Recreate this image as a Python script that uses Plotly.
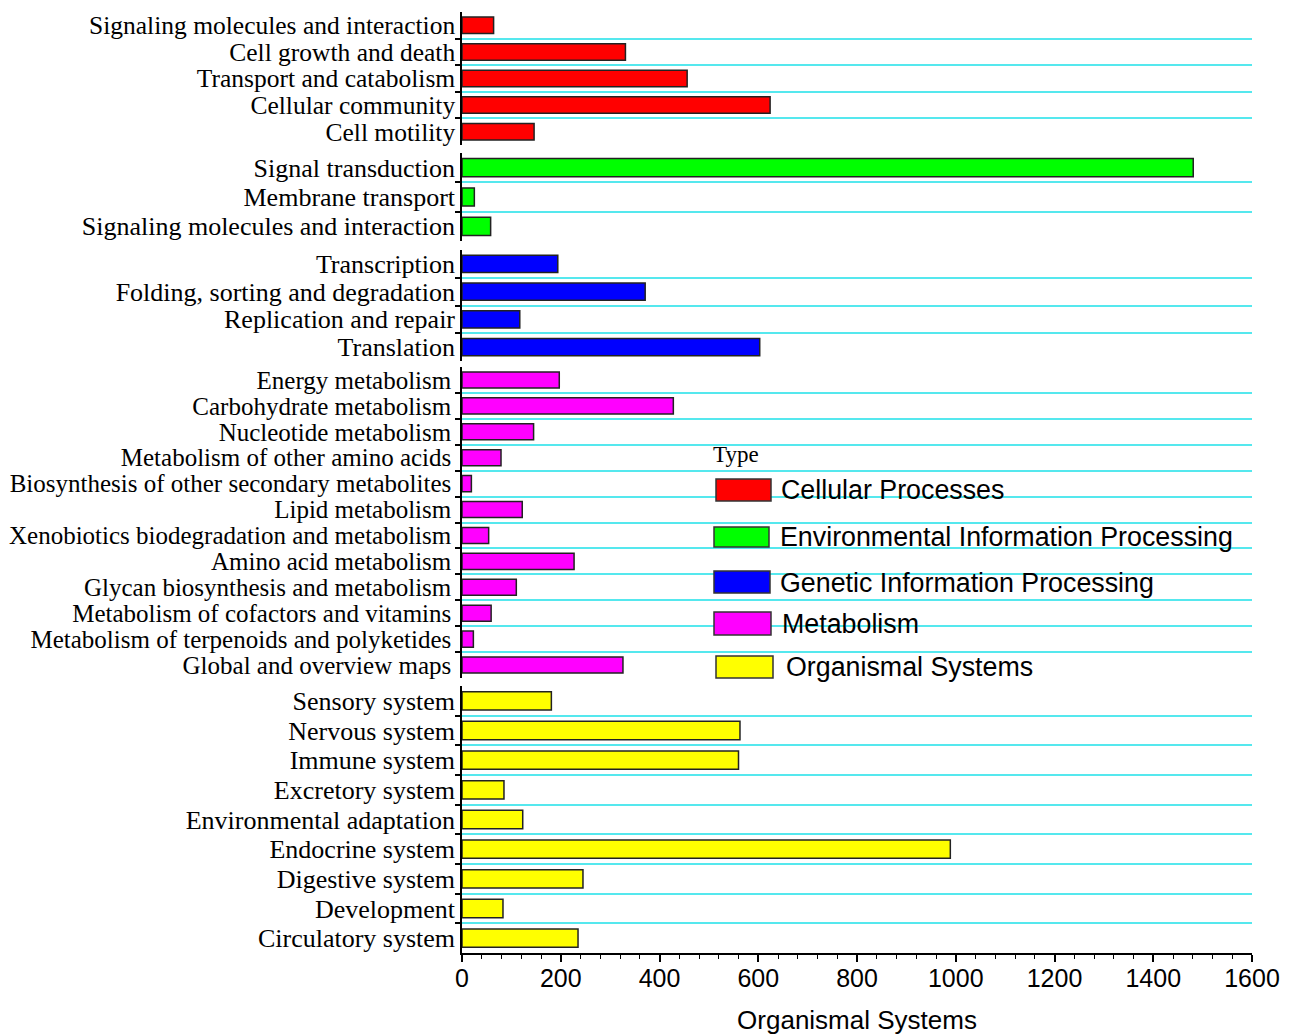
import plotly.graph_objects as go

# KEGG pathway categories, one panel per top-level type (top to bottom)
cellular_labels = ["Signaling molecules and interaction", "Cell growth and death",
                   "Transport and catabolism", "Cellular community", "Cell motility"]
cellular_values = [64, 331, 456, 624, 146]

environmental_labels = ["Signal transduction", "Membrane transport",
                        "Signaling molecules and interaction"]
environmental_values = [1481, 25, 58]

genetic_labels = ["Transcription", "Folding, sorting and degradation",
                  "Replication and repair", "Translation"]
genetic_values = [194, 371, 117, 603]

metabolism_labels = ["Energy metabolism", "Carbohydrate metabolism", "Nucleotide metabolism",
                     "Metabolism of other amino acids", "Biosynthesis of other secondary metabolites",
                     "Lipid metabolism", "Xenobiotics biodegradation and metabolism",
                     "Amino acid metabolism", "Glycan biosynthesis and metabolism",
                     "Metabolism of cofactors and vitamins", "Metabolism of terpenoids and polyketides",
                     "Global and overview maps"]
metabolism_values = [197, 428, 145, 79, 19, 122, 54, 227, 110, 59, 23, 326]

organismal_labels = ["Sensory system", "Nervous system", "Immune system", "Excretory system",
                     "Environmental adaptation", "Endocrine system", "Digestive system",
                     "Development", "Circulatory system"]
organismal_values = [181, 563, 560, 85, 123, 989, 245, 83, 235]

type_names = ["Cellular Processes", "Environmental Information Processing",
              "Genetic Information Processing", "Metabolism", "Organismal Systems"]
type_colors = ["#FF0000", "#00FF00", "#0000FF", "#FF00FF", "#FFFF00"]

x_ticks = [0, 200, 400, 600, 800, 1000, 1200, 1400, 1600]

groups = [
    (cellular_labels, cellular_values),
    (environmental_labels, environmental_values),
    (genetic_labels, genetic_values),
    (metabolism_labels, metabolism_values),
    (organismal_labels, organismal_values),
]

# Figure geometry (pixels)
W, H = 1299, 1035
ML, MR, MT, MB = 462, 47, 12, 82
PW = W - ML - MR
PH = H - MT - MB


def px_x(px):
    return (px - ML) / PW


def px_y(py):
    return (H - MB - py) / PH


# vertical pixel extent of each panel
panel_px = [(12, 145), (153, 241), (250, 361), (367, 678), (686, 953)]
label_sizes = [25.5, 26, 26, 25, 26]
label_standoff = [0, 0, 0, 4, 0]

serif = "Liberation Serif, Times New Roman, serif"
sans = "Liberation Sans, Arial, sans-serif"
grid_cyan = "#55E8EE"

fig = go.Figure()
layout = {}
n_panels = len(groups)
for i, (labels, values) in enumerate(groups):
    k = i + 1
    xa = "x" if k == 1 else f"x{k}"
    ya = "y" if k == 1 else f"y{k}"
    n = len(labels)
    pos = list(range(n))
    fig.add_trace(go.Bar(
        x=values, y=pos, orientation="h", xaxis=xa, yaxis=ya,
        width=0.62,
        marker=dict(color=type_colors[i], line=dict(color="#222222", width=1.5)),
        name=type_names[i], showlegend=False,
        hovertemplate="%{text}: %{x}<extra></extra>", text=labels, textposition="none",
    ))
    top, bot = panel_px[i]
    yname = "yaxis" if k == 1 else f"yaxis{k}"
    xname = "xaxis" if k == 1 else f"xaxis{k}"
    layout[yname] = dict(
        domain=[px_y(bot), px_y(top)],
        anchor=xa, automargin=False,
        range=[n - 0.5, -0.5],
        tickmode="array", tickvals=pos, ticktext=labels,
        ticks="", showgrid=False, zeroline=False,
        ticklabelstandoff=label_standoff[i],
        showline=True, linecolor="black", linewidth=1.5,
        tickfont=dict(family=serif, size=label_sizes[i], color="black"),
        minor=dict(tickmode="array", tickvals=[p + 0.5 for p in pos[:-1]],
                   ticks="outside", ticklen=5, tickcolor="black", tickwidth=1.5,
                   showgrid=True, gridcolor=grid_cyan, gridwidth=1.5),
    )
    is_bottom = (k == n_panels)
    xa_cfg = dict(
        domain=[0, 1], anchor=ya, range=[0, 1600], automargin=False,
        showgrid=False, zeroline=False,
    )
    if k > 1:
        xa_cfg["matches"] = "x"
    if is_bottom:
        xa_cfg.update(
            showline=True, linecolor="black", linewidth=1.5,
            tickmode="array", tickvals=x_ticks,
            ticks="outside", ticklen=7, tickwidth=1.5, tickcolor="black",
            ticklabelstandoff=-5,
            tickfont=dict(family=sans, size=25, color="black"),
            minor=dict(dtick=40, tick0=0, ticks="outside", ticklen=4,
                       tickwidth=1.2, tickcolor="black", showgrid=False),
            title=dict(text="Organismal Systems", standoff=27,
                       font=dict(family=sans, size=26, color="black")),
        )
    else:
        xa_cfg.update(showline=False, showticklabels=False, ticks="")
    layout[xname] = xa_cfg

# Type key drawn in the free space to the right of the metabolism panel
shapes = []
annotations = [dict(
    text="Type", x=px_x(711), y=px_y(454), xref="paper", yref="paper",
    xanchor="left", yanchor="middle", showarrow=False,
    font=dict(family=serif, size=23, color="black"),
)]
swatch_px = [(716, 479, 771, 501), (714, 527, 769, 547), (714, 571, 770, 593),
             (714, 612, 771, 635), (716, 656, 773, 678)]
text_px = [(779, 490), (778, 537), (778, 583), (780, 624), (784, 667)]
for i, name in enumerate(type_names):
    x0, y0, x1, y1 = swatch_px[i]
    shapes.append(dict(
        type="rect", xref="paper", yref="paper",
        x0=px_x(x0), x1=px_x(x1), y0=px_y(y1), y1=px_y(y0),
        fillcolor=type_colors[i], line=dict(color="#333333", width=1.5),
    ))
    tx, ty = text_px[i]
    annotations.append(dict(
        text=name, x=px_x(tx), y=px_y(ty), xref="paper", yref="paper",
        xanchor="left", yanchor="middle", showarrow=False,
        font=dict(family=sans, size=26.8, color="black"),
    ))

fig.update_layout(
    width=W, height=H,
    margin=dict(l=ML, r=MR, t=MT, b=MB),
    paper_bgcolor="white", plot_bgcolor="white",
    bargap=0.38, showlegend=False,
    shapes=shapes, annotations=annotations,
    **layout,
)

fig.write_html("out.html")
